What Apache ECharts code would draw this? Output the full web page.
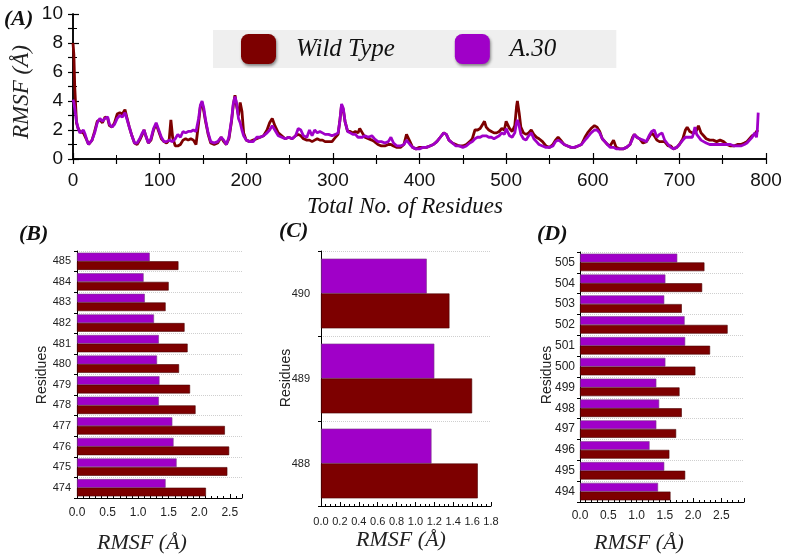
<!DOCTYPE html>
<html><head><meta charset="utf-8">
<script src="https://cdn.jsdelivr.net/npm/echarts@6/dist/echarts.min.js"></script>
<style>html,body{margin:0;padding:0;background:#fff}#c{width:789px;height:560px}</style>
</head><body><div id="c"></div>
<script>
// ---- Panel A: full RMSF profile ----
var residues = [0,1,2,4,6,8,10,12,14,16,18,20,22,25,28,31,34,37,40,42,45,48,51,54,57,60,62,65,68,71,74,77,80,82,84,87,90,93,96,99,102,105,108,111,113,115,118,121,124,127,130,133,136,139,142,145,147,149,151,153,156,159,163,167,171,174,177,180,183,185,187,189,191,193,195,197,200,204,208,212,216,220,224,227,230,233,237,241,245,249,253,257,260,263,266,270,273,276,279,282,285,288,291,295,299,303,306,308,310,312,314,317,320,323,326,329,331,334,337,341,345,348,352,356,360,364,367,370,374,378,382,385,387,389,392,396,400,404,408,412,416,420,424,428,431,434,438,442,446,450,454,458,461,464,467,470,473,475,477,480,483,486,489,492,495,498,500,502,504,507,510,512,513,515,517,520,523,526,529,532,535,538,542,546,550,554,557,560,563,567,571,575,579,583,587,591,594,598,602,605,608,611,614,617,620,624,627,631,635,639,643,646,648,651,654,658,662,665,668,671,674,677,680,683,687,690,693,697,700,704,707,709,712,715,718,720,722,725,728,731,735,739,743,747,751,755,759,763,767,771,775,778,781,784,787,789,790,791];
var wildType = [8.0,7.2,5.0,2.5,2.1,1.9,2.0,1.8,1.9,1.3,1.0,1.1,1.3,1.9,2.6,2.7,2.5,2.9,2.8,2.3,2.2,2.5,3.1,3.2,3.1,3.4,2.9,2.2,1.6,1.1,1.0,1.3,1.7,2.0,1.6,1.1,1.3,2.0,2.4,1.9,1.4,1.2,1.1,1.3,2.7,1.5,0.9,0.9,1.0,1.3,1.4,1.3,1.4,1.3,1.0,2.5,3.6,3.9,3.3,2.6,1.7,1.1,1.0,1.1,1.5,1.2,1.0,1.4,2.6,3.7,4.4,3.6,3.0,3.9,3.3,1.8,1.3,1.2,1.3,1.4,1.5,1.6,2.0,2.5,2.8,2.3,1.8,1.6,1.4,1.5,1.4,1.6,1.7,1.6,1.4,1.3,1.3,1.2,1.3,1.4,1.3,1.3,1.2,1.2,1.2,1.5,1.7,2.6,3.7,3.4,2.6,1.9,1.9,1.8,1.9,1.8,2.1,1.8,1.5,1.4,1.3,1.2,1.0,0.9,0.9,1.0,1.0,0.9,0.8,0.8,1.0,1.7,1.8,1.2,0.8,0.7,0.8,0.8,0.8,0.9,1.0,1.2,1.5,1.8,1.7,1.3,1.1,1.0,0.9,0.9,1.0,1.2,1.4,2.0,2.0,2.1,2.4,2.6,2.2,2.0,1.9,1.8,1.8,1.9,2.1,2.0,2.6,2.7,2.1,1.9,2.3,3.6,4.0,3.2,2.2,1.8,1.7,1.8,2.0,1.7,1.5,1.4,1.2,0.9,0.8,1.0,1.3,1.5,1.3,1.0,0.9,0.8,0.8,0.9,1.0,1.5,1.8,2.1,2.3,2.2,1.9,1.4,1.2,1.0,0.9,1.3,0.8,0.7,0.7,0.8,1.0,1.5,1.7,1.5,1.4,1.1,1.2,1.5,1.8,1.6,1.3,1.2,1.2,1.2,0.9,0.9,0.7,0.8,1.0,1.4,2.0,2.2,1.9,1.8,1.8,2.0,2.3,1.8,1.6,1.4,1.3,1.3,1.2,1.3,1.2,1.0,0.9,0.9,1.0,1.0,1.1,1.2,1.4,1.6,1.7,1.9,2.0,2.0];
var a30 = [4.1,3.9,3.5,2.6,2.1,1.8,1.9,2.0,1.7,1.3,1.0,1.1,1.3,1.8,2.5,2.8,2.6,2.8,2.9,2.4,2.2,2.4,2.8,3.0,2.9,3.2,2.8,2.2,1.6,1.1,1.1,1.4,1.8,2.0,1.6,1.1,1.4,2.1,2.5,2.0,1.5,1.2,1.2,1.3,1.4,1.2,1.4,1.7,1.5,1.9,1.8,1.9,1.9,2.0,1.9,2.8,3.7,4.0,3.5,2.7,1.8,1.2,1.1,1.2,1.5,1.3,1.0,1.5,2.7,3.8,4.3,3.8,2.8,2.5,2.0,1.6,1.3,1.2,1.2,1.5,1.5,1.6,1.8,2.0,2.3,2.0,1.6,1.5,1.4,1.5,1.4,1.6,2.1,2.0,1.6,1.5,2.0,1.6,2.0,1.8,1.9,1.8,1.7,1.7,1.6,1.7,1.8,2.6,3.8,3.5,2.6,1.9,1.8,1.7,1.7,1.5,1.6,1.5,1.6,1.5,1.6,1.4,1.2,1.2,1.1,1.2,1.5,1.1,0.9,0.9,1.0,1.3,1.4,1.0,0.8,0.7,0.7,0.8,0.8,0.9,1.0,1.2,1.5,1.8,1.7,1.3,1.1,0.9,0.9,0.8,0.9,1.1,1.2,1.4,1.5,1.5,1.6,1.7,1.6,1.5,1.5,1.4,1.5,1.6,1.8,1.7,2.1,2.2,1.6,1.5,1.8,2.5,2.7,2.3,1.7,1.4,1.3,1.6,1.8,1.4,1.2,1.0,0.9,0.8,0.8,0.9,1.2,1.3,1.2,1.0,0.9,0.8,0.8,0.9,1.0,1.3,1.5,1.8,2.0,2.0,1.8,1.4,1.2,1.0,0.8,0.8,0.7,0.7,0.7,0.8,1.0,1.4,1.7,1.5,1.4,1.3,1.2,1.6,1.9,2.0,1.5,1.7,1.8,1.3,1.0,0.8,0.7,0.8,1.0,1.3,1.5,1.6,1.5,1.5,2.2,1.7,1.6,1.3,1.2,1.1,1.0,1.0,1.0,1.0,1.0,1.0,1.0,0.9,0.9,0.9,1.0,1.1,1.3,1.5,1.8,1.5,2.0,3.2,3.2];
var xTicksA = [0,100,200,300,400,500,600,700,800];
var yTicksA = [0,2,4,6,8,10];

// ---- Panel B: residues 474-485 ----
var resB = ['474','475','476','477','478','479','480','481','482','483','484','485'];
var wtB  = [2.11,2.46,2.49,2.42,1.94,1.85,1.67,1.81,1.76,1.45,1.50,1.66];
var a30B = [1.45,1.63,1.58,1.56,1.34,1.35,1.31,1.34,1.26,1.11,1.09,1.19];

// ---- Panel C: residues 488-490 ----
var resC = ['488','489','490'];
var wtC  = [1.66,1.60,1.36];
var a30C = [1.17,1.20,1.12];

// ---- Panel D: residues 494-505 ----
var resD = ['494','495','496','497','498','499','500','501','502','503','504','505'];
var wtD  = [1.60,1.86,1.58,1.70,1.80,1.76,2.04,2.30,2.61,1.80,2.16,2.20];
var a30D = [1.38,1.49,1.23,1.35,1.40,1.35,1.51,1.86,1.85,1.49,1.51,1.72];

var names = ['Wild Type','A.30'];
var colWT = '#7d0000', colA = '#a000c8';
var serif = "'Liberation Serif','DejaVu Serif',serif";
var sans = "'Liberation Sans',Arial,sans-serif";

function pairs(xs, ys){ return xs.map(function(x,i){ return [x, ys[i]]; }); }

var chart = echarts.init(document.getElementById('c'), null, {renderer:'canvas'});

var axLine = {show:true, lineStyle:{color:'#000', width:1.5}};
function barX(grid, max, interval, minorSplit, fs, margin){
  return {type:'value', gridIndex:grid, min:0, max:max, interval:interval,
    axisLine:{show:true, onZero:false, lineStyle:{color:'#000', width:1}},
    axisTick:{show:true, inside:true, length:4, lineStyle:{color:'#000'}},
    minorTick:{show:true, splitNumber:minorSplit, length:2, lineStyle:{color:'#000'}},
    splitLine:{show:false},
    axisLabel:{fontFamily:sans, fontSize:fs, color:'#222', margin:margin,
      formatter:function(v){ return (Math.abs(v/interval - Math.round(v/interval))<1e-6) ? v.toFixed(1) : ''; }}
  };
}
function barY(grid, cats, fs, margin){
  return {type:'category', gridIndex:grid, data:cats,
    axisLine:{show:true, lineStyle:{color:'#000', width:1}},
    axisTick:{show:true, length:3, lineStyle:{color:'#000'}},
    splitLine:{show:true, lineStyle:{color:'#cfcfcf', type:'dotted', width:1}},
    axisLabel:{fontFamily:sans, fontSize:fs, color:'#222', margin:margin}
  };
}
// axis index for panel grid g (1..3) is g+1 (grid 0 owns axes 0 and 1)
function barS(name, grid, data, color, gap){
  return {type:'bar', name:name, xAxisIndex:grid+1, yAxisIndex:grid+1, data:data,
    barGap:'0%', barCategoryGap:gap, silent:true,
    itemStyle:{color:color, borderColor: name==='Wild Type' ? '#4a0000' : '#7a3a8a', borderWidth:0.6}};
}

var option = {
  animation:false,
  backgroundColor:'#fff',
  legend:{
    data:names, left:213, top:30, orient:'horizontal',
    backgroundColor:'#efefef', padding:[4,60,4,28],
    itemWidth:35, itemHeight:30, itemGap:60, icon:'roundRect',
    itemStyle:{shadowBlur:3, shadowColor:'rgba(0,0,0,0.45)', shadowOffsetX:1, shadowOffsetY:2},
    textStyle:{fontFamily:serif, fontStyle:'italic', fontSize:25, color:'#111', padding:[0,0,0,15]}
  },
  grid:[
    {left:73, top:14, width:693, height:145},
    {left:77, top:251, width:165, height:247},
    {left:321, top:251, width:170, height:255},
    {left:580, top:252, width:164, height:250}
  ],
  xAxis:[
    {type:'value', gridIndex:0, min:0, max:800, interval:100,
      axisLine:axLine, splitLine:{show:false},
      axisTick:{inside:true, length:6, lineStyle:{color:'#000', width:1.2}},
      minorTick:{show:true, splitNumber:2, length:4, lineStyle:{color:'#000'}},
      axisLabel:{fontFamily:sans, fontSize:19, color:'#111', margin:12}},
    {type:'value', gridIndex:0, position:'top', min:0, max:800, interval:50,
      axisLine:axLine, splitLine:{show:false},
      axisTick:{inside:true, length:5, lineStyle:{color:'#000', width:1.2}},
      axisLabel:{show:false}},
    barX(1, 2.7, 0.5, 5, 12, 9),
    barX(2, 1.8, 0.2, 4, 11, 10),
    barX(3, 2.9, 0.5, 5, 12, 8)
  ],
  yAxis:[
    {type:'value', gridIndex:0, min:0, max:10, interval:2,
      axisLine:axLine, splitLine:{show:false},
      axisTick:{inside:true, length:6, lineStyle:{color:'#000', width:1.2}},
      minorTick:{show:true, splitNumber:2, length:4, lineStyle:{color:'#000'}},
      axisLabel:{fontFamily:sans, fontSize:19, color:'#111', margin:10}},
    {type:'value', gridIndex:0, position:'right', min:0, max:10, interval:1,
      axisLine:axLine, splitLine:{show:false},
      axisTick:{inside:true, length:5, lineStyle:{color:'#000', width:1.2}},
      axisLabel:{show:false}},
    barY(1, resB, 11, 6),
    barY(2, resC, 11, 11),
    barY(3, resD, 12, 5)
  ],
  series:[
    {type:'line', name:'Wild Type', xAxisIndex:0, yAxisIndex:0, data:pairs(residues, wildType),
      showSymbol:false, lineStyle:{color:colWT, width:2.8}, itemStyle:{color:colWT}, z:2},
    {type:'line', name:'A.30', xAxisIndex:0, yAxisIndex:0, data:pairs(residues, a30),
      showSymbol:false, lineStyle:{color:colA, width:2.8}, itemStyle:{color:colA}, z:3},
    barS('A.30', 1, a30B, colA, '16%'),
    barS('Wild Type', 1, wtB, colWT, '16%'),
    barS('A.30', 2, a30C, colA, '18%'),
    barS('Wild Type', 2, wtC, colWT, '18%'),
    barS('A.30', 3, a30D, colA, '16%'),
    barS('Wild Type', 3, wtD, colWT, '16%')
  ],
  graphic:[
    {type:'text', left:4, top:8, style:{text:'(A)', font:'italic bold 22px '+serif, fill:'#111'}},
    {type:'text', left:19, top:223, style:{text:'(B)', font:'italic bold 22px '+serif, fill:'#111'}},
    {type:'text', left:279, top:220, style:{text:'(C)', font:'italic bold 22px '+serif, fill:'#111'}},
    {type:'text', left:537, top:223, style:{text:'(D)', font:'italic bold 22px '+serif, fill:'#111'}},
    {type:'text', x:22, y:92, rotation:Math.PI/2, style:{text:'RMSF (Å)', font:'italic 23px '+serif, fill:'#222', textAlign:'center', textVerticalAlign:'middle'}},
    {type:'text', x:405, y:207, style:{text:'Total No. of Residues', font:'italic 23px '+serif, fill:'#111', textAlign:'center', textVerticalAlign:'middle'}},
    {type:'text', x:42, y:375, rotation:Math.PI/2, style:{text:'Residues', font:'14px '+sans, fill:'#222', textAlign:'center', textVerticalAlign:'middle'}},
    {type:'text', x:286, y:378, rotation:Math.PI/2, style:{text:'Residues', font:'14px '+sans, fill:'#222', textAlign:'center', textVerticalAlign:'middle'}},
    {type:'text', x:547, y:375, rotation:Math.PI/2, style:{text:'Residues', font:'14px '+sans, fill:'#222', textAlign:'center', textVerticalAlign:'middle'}},
    {type:'text', x:142, y:543, style:{text:'RMSF (Å)', font:'italic 22px '+serif, fill:'#222', textAlign:'center', textVerticalAlign:'middle'}},
    {type:'text', x:401, y:540, style:{text:'RMSF (Å)', font:'italic 22px '+serif, fill:'#222', textAlign:'center', textVerticalAlign:'middle'}},
    {type:'text', x:639, y:543, style:{text:'RMSF (Å)', font:'italic 22px '+serif, fill:'#222', textAlign:'center', textVerticalAlign:'middle'}}
  ]
};
chart.setOption(option);
</script>
</body></html>
